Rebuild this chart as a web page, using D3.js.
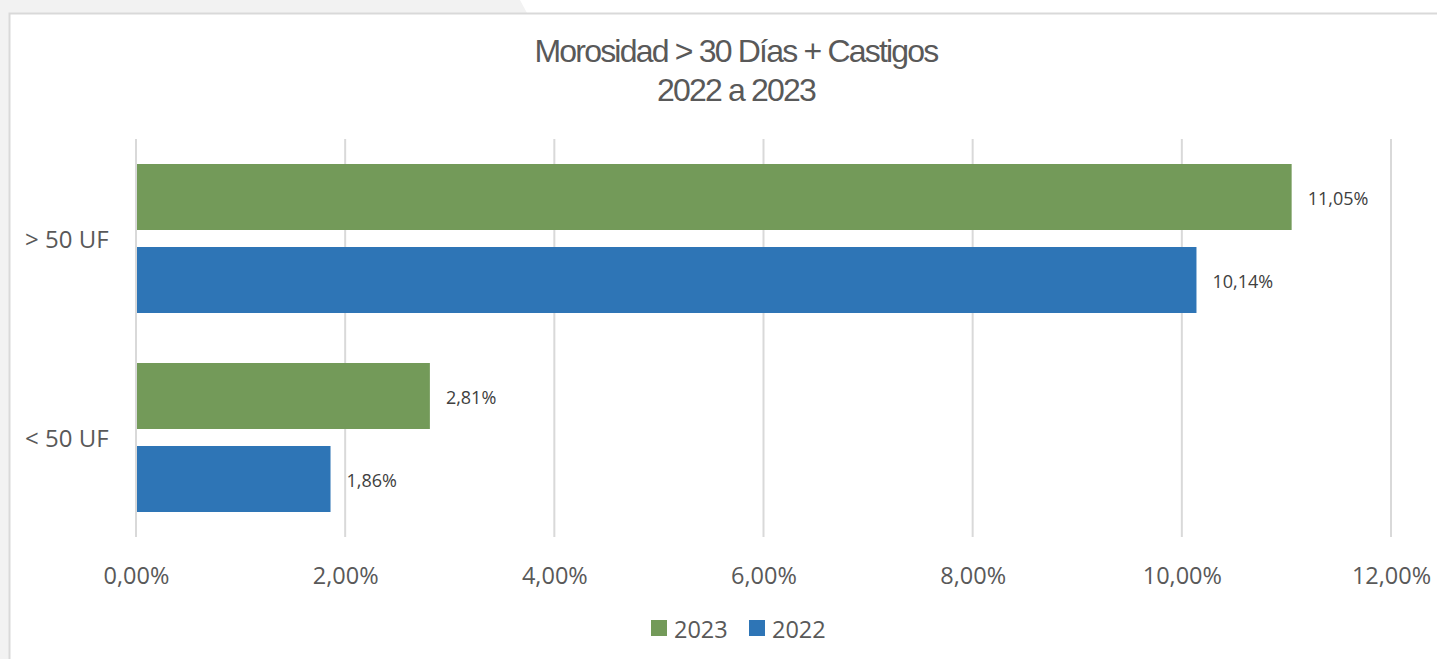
<!DOCTYPE html>
<html><head><meta charset="utf-8">
<script src="https://cdn.jsdelivr.net/npm/d3@7"></script>
<style>
html,body{margin:0;padding:0;background:#f2f2f2;}
svg{display:block;}
</style></head>
<body>
<svg id="c" width="1437" height="659"></svg>
<script>
const categories = ["> 50 UF", "< 50 UF"];
const series = ["2023", "2022"];
const values2023 = [11.05, 2.81];
const values2022 = [10.14, 1.86];
const labels2023 = ["11,05%", "2,81%"];
const labels2022 = ["10,14%", "1,86%"];
const xTicks = [0, 2, 4, 6, 8, 10, 12];
const xTickLabels = ["0,00%", "2,00%", "4,00%", "6,00%", "8,00%", "10,00%", "12,00%"];
const colors = {"2023": "#739a59", "2022": "#2e75b6"};

const svg = d3.select("#c");
// background panel
svg.append("path").attr("d","M520,0 L1437,0 L1437,13 L527,13 Z").attr("fill","#ffffff");
svg.append("rect").attr("x",9.5).attr("y",13.5).attr("width",1440).attr("height",660)
  .attr("fill","#ffffff").attr("stroke","#d9d9d9").attr("stroke-width",2);

const x = d3.scaleLinear().domain([0, 12]).range([136, 1391]);
const y0 = d3.scaleBand().domain(categories).range([139, 537]).paddingInner(50/199).paddingOuter(25/199);
const y1 = d3.scaleBand().domain(series).range([0, y0.bandwidth()]).paddingInner(17/83);

// gridlines
svg.append("g").selectAll("line").data(xTicks).join("line")
  .attr("x1", d => x(d)).attr("x2", d => x(d))
  .attr("y1", 139).attr("y2", 537)
  .attr("stroke", "#d9d9d9").attr("stroke-width", 2);

// axis tick labels
const xAxis = d3.axisBottom(x).tickValues(xTicks).tickFormat((d,i) => xTickLabels[i]).tickSize(0).tickPadding(0);
const gx = svg.append("g").attr("transform", "translate(0,584)").call(xAxis);
gx.select(".domain").remove();
gx.selectAll("text").attr("fill","#595959").attr("font-family","'Open Sans', sans-serif")
  .attr("font-size","23.5px").attr("dy","0");

// category labels
const yAxis = d3.axisLeft(y0).tickSize(0).tickPadding(0);
const gy = svg.append("g").attr("transform","translate(25,0)").call(yAxis);
gy.select(".domain").remove();
gy.selectAll("text").attr("text-anchor","start").attr("fill","#595959")
  .attr("font-family","'Open Sans', sans-serif").attr("font-size","24px").attr("dy","0.38em").attr("x",0);

const data = [];
categories.forEach((c,i) => {
  data.push({cat:c, s:"2023", v:values2023[i], l:labels2023[i]});
  data.push({cat:c, s:"2022", v:values2022[i], l:labels2022[i]});
});

svg.append("g").selectAll("rect").data(data).join("rect")
  .attr("x", x(0)+1).attr("y", d => y0(d.cat)+y1(d.s))
  .attr("width", d => x(d.v)-x(0)-1).attr("height", y1.bandwidth())
  .attr("fill", d => colors[d.s]);

svg.append("g").selectAll("text").data(data).join("text")
  .attr("x", d => x(d.v)+16).attr("y", d => y0(d.cat)+y1(d.s)+y1.bandwidth()/2 + 2)
  .attr("dy","0.36em").attr("fill","#404040")
  .attr("font-family","'Open Sans', sans-serif").attr("font-size","18px")
  .text(d => d.l);

// title
const title = svg.append("text").attr("text-anchor","middle").attr("fill","#595959")
  .attr("font-family","'Liberation Sans', Arial, sans-serif").attr("font-size","32px")
  .attr("letter-spacing","-1.8px");
title.append("tspan").attr("x",736).attr("y",62).text("Morosidad > 30 Días + Castigos");
title.append("tspan").attr("x",736).attr("y",101).text("2022 a 2023");

// legend
const leg = svg.append("g");
const legX = [651, 749];
series.forEach((s,i) => {
  leg.append("rect").attr("x",legX[i]).attr("y",620).attr("width",16).attr("height",16).attr("fill",colors[s]);
  leg.append("text").attr("x",legX[i]+23).attr("y",638).attr("fill","#595959")
    .attr("font-family","'Open Sans', sans-serif").attr("font-size","23.5px").text(s);
});
</script>
</body></html>
